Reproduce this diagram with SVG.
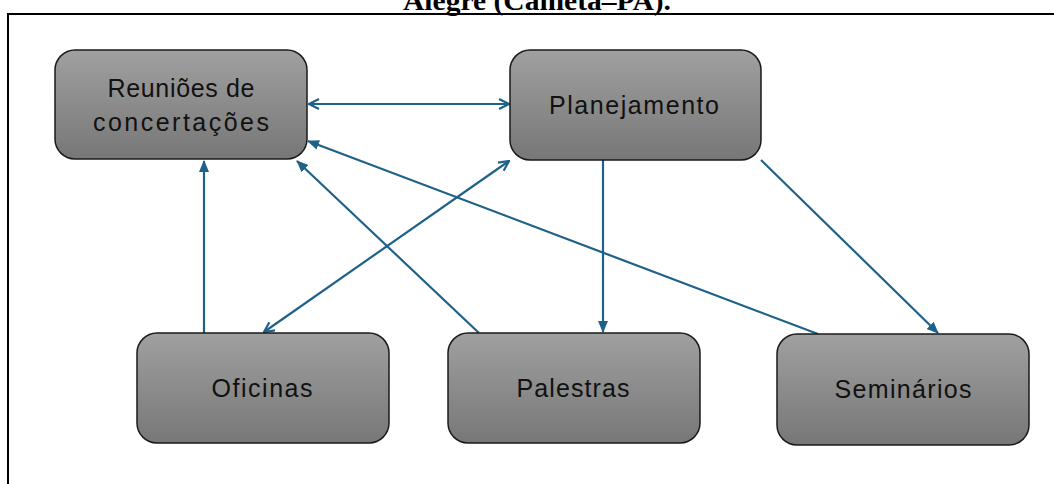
<svg xmlns="http://www.w3.org/2000/svg" width="1054" height="484" viewBox="0 0 1054 484">
<style>
.node rect{fill:url(#g);stroke:#1a1a1a;stroke-width:1.5}
.node text{font-family:"Liberation Sans",Arial,sans-serif;font-size:25px;fill:#111;text-anchor:middle}
#connectors line{stroke:#1f6289;stroke-width:2.2;fill:none}
.title{font-family:"Liberation Serif","Times New Roman",serif;font-weight:bold;font-size:28px;fill:#000;text-anchor:middle}
</style>
<defs>
<linearGradient id="g" x1="0" y1="0" x2="0" y2="1">
<stop offset="0" stop-color="#a0a0a0"/>
<stop offset="1" stop-color="#777"/>
</linearGradient>
<marker id="open" viewBox="0 0 12 12" refX="11" refY="6" markerWidth="12" markerHeight="12" markerUnits="userSpaceOnUse" orient="auto-start-reverse">
<path d="M1,1 L11,6 L1,11" fill="none" stroke="#1f6289" stroke-width="2.2"/>
</marker>
<marker id="fill" viewBox="0 0 12 12" refX="11" refY="6" markerWidth="12" markerHeight="12" markerUnits="userSpaceOnUse" orient="auto">
<path d="M0,1 L12,6 L0,11 Z" fill="#1f6289"/>
</marker>
</defs>
<rect width="1054" height="484" fill="#fff"/>
<text class="title" x="537" y="10" textLength="268" lengthAdjust="spacingAndGlyphs">Alegre (Cametá–PA).</text>
<path d="M8,484 V14 H1054" fill="none" stroke="#000" stroke-width="2"/>
<g id="connectors">
<line x1="309" y1="104" x2="509" y2="104" marker-start="url(#open)" marker-end="url(#open)"/>
<line x1="204" y1="333" x2="204" y2="161" marker-end="url(#fill)"/>
<line x1="479" y1="333" x2="297" y2="161" marker-end="url(#fill)"/>
<line x1="264" y1="332" x2="509" y2="161" marker-start="url(#open)" marker-end="url(#open)"/>
<line x1="818" y1="334" x2="308" y2="141" marker-end="url(#fill)"/>
<line x1="603" y1="160" x2="603" y2="332" marker-end="url(#fill)"/>
<line x1="761" y1="160" x2="938" y2="333" marker-end="url(#fill)"/>
</g>
<g id="reunioes" class="node">
<rect x="55" y="50" width="252" height="109" rx="20"/>
<text x="181" y="97" textLength="147" lengthAdjust="spacing">Reuniões de</text>
<text x="181" y="131" textLength="176" lengthAdjust="spacing">concertações</text>
</g>
<g id="planejamento" class="node">
<rect x="510" y="50" width="251" height="110" rx="20"/>
<text x="634" y="114" textLength="170" lengthAdjust="spacing">Planejamento</text>
</g>
<g id="oficinas" class="node">
<rect x="137" y="333" width="252" height="110" rx="20"/>
<text x="262" y="397" textLength="101" lengthAdjust="spacing">Oficinas</text>
</g>
<g id="palestras" class="node">
<rect x="448" y="333" width="252" height="110" rx="20"/>
<text x="573" y="397" textLength="113" lengthAdjust="spacing">Palestras</text>
</g>
<g id="seminarios" class="node">
<rect x="777" y="334" width="252" height="111" rx="20"/>
<text x="903" y="398" textLength="137" lengthAdjust="spacing">Seminários</text>
</g>
</svg>
